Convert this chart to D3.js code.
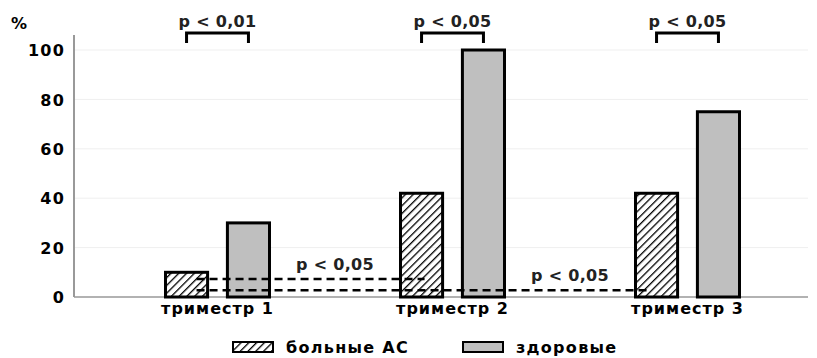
<!DOCTYPE html>
<html lang='ru'>
<head>
	<meta charset='UTF-8'/>
	<title>D3: триместры</title>
	<script src='https://cdnjs.cloudflare.com/ajax/libs/d3/7.8.5/d3.min.js'></script>
	<style>
		body {margin: 0; background: #fff;}
		svg {display: block; font-family: 'DejaVu Sans', Verdana, sans-serif;}
	</style>
</head>
<body>
	<div class='graph'></div>
	<script>
		// data
		const categories = ['триместр 1', 'триместр 2', 'триместр 3'];
		const seriesNames = ['больные АС', 'здоровые'];
		const sick = [10, 42, 42];
		const healthy = [30, 100, 75];
		const yTicks = [0, 20, 40, 60, 80, 100];
		const pairLabels = ['p < 0,01', 'p < 0,05', 'p < 0,05'];
		// dashed comparisons: from trimester 1 (sick) to trimester N (sick)
		const crossTargets = [1, 2];
		const crossLabels = ['p < 0,05', 'p < 0,05'];

		var width = 817, height = 358;
		var margin = ({top: 50, right: 9, bottom: 61, left: 74});

		var svg = d3.select('.graph').append('svg')
			.attr('width', width)
			.attr('height', height);

		// hatch pattern
		var defs = svg.append('defs');
		defs.append('pattern')
			.attr('id', 'hatch')
			.attr('patternUnits', 'userSpaceOnUse')
			.attr('width', 5.5).attr('height', 5.5)
			.attr('patternTransform', 'rotate(45)')
			.append('line')
			.attr('x1', 0).attr('y1', 0).attr('x2', 0).attr('y2', 5.5)
			.attr('stroke', '#000').attr('stroke-width', 2.6);

		const fills = ['url(#hatch)', '#bfbfbf'];
		const values = [sick, healthy];

		const Y = d3.scaleLinear().domain([0, 100]).range([height - margin.bottom, margin.top]);
		const X = d3.scaleBand().domain(categories).range([100, 805]);
		const XS = d3.scaleBand().domain(seriesNames).range([-52, 52]).paddingInner(0.32);
		const cx = (i, s) => X(categories[i]) + X.bandwidth() / 2 + XS(seriesNames[s]) + XS.bandwidth() / 2;

		// grid
		svg.append('g')
			.selectAll('line')
			.data(yTicks.slice(1))
			.join('line')
			.attr('x1', margin.left).attr('x2', width - margin.right)
			.attr('y1', d => Y(d)).attr('y2', d => Y(d))
			.attr('stroke', '#efefef').attr('stroke-width', 1);

		// y axis
		var yAxis = svg.append('g')
			.attr('transform', 'translate(' + margin.left + ',0)')
			.call(d3.axisLeft(Y).tickValues(yTicks).tickSize(0).tickPadding(9));
		yAxis.select('.domain').attr('stroke', '#999').attr('stroke-width', 2)
			.attr('d', 'M0,' + (margin.top - 15) + 'V' + Y(0));
		yAxis.selectAll('.tick text')
			.attr('dy', '0.36em')
			.style('font-family', "'DejaVu Sans', sans-serif")
			.style('font-size', '16px').style('font-weight', 'bold')
			.style('letter-spacing', '1.2px').style('fill', '#000');

		svg.append('text')
			.attr('x', 11).attr('y', 29)
			.style('font-weight', 'bold').style('font-size', '16px')
			.text('%');

		// x axis
		var xAxis = svg.append('g')
			.attr('transform', 'translate(0,' + Y(0) + ')')
			.call(d3.axisBottom(X).tickSize(0).tickPadding(6));
		xAxis.select('.domain').attr('stroke', '#999').attr('stroke-width', 1.5)
			.attr('d', 'M' + margin.left + ',0H' + (width - margin.right));
		xAxis.selectAll('.tick text')
			.style('font-family', "'DejaVu Sans', sans-serif")
			.style('font-size', '16px').style('font-weight', 'bold')
			.style('letter-spacing', '1px').style('fill', '#000');

		// bars
		seriesNames.forEach((name, s) => {
			svg.append('g')
				.selectAll('rect')
				.data(values[s])
				.join('rect')
				.attr('x', (d, i) => X(categories[i]) + X.bandwidth() / 2 + XS(name))
				.attr('width', XS.bandwidth())
				.attr('y', d => Y(d))
				.attr('height', d => Y(0) - Y(d))
				.attr('fill', fills[s])
				.attr('stroke', '#000')
				.attr('stroke-width', 3);
		});

		// brackets above each pair
		var br = svg.append('g').selectAll('g').data(pairLabels).join('g');
		br.append('path')
			.attr('d', (d, i) => 'M' + cx(i, 0) + ',43V33H' + cx(i, 1) + 'V43')
			.attr('fill', 'none').attr('stroke', '#000').attr('stroke-width', 3);
		br.append('text')
			.attr('x', (d, i) => (cx(i, 0) + cx(i, 1)) / 2)
			.attr('y', 27)
			.attr('text-anchor', 'middle')
			.style('font-size', '16px')
			.style('font-weight', 'bold')
			.style('fill', '#222')
			.style('letter-spacing', '0.3px')
			.text(d => d);

		// dashed comparisons between sick bars
		const levels = [7.3, 2.7];
		var cr = svg.append('g').selectAll('g').data(crossTargets).join('g');
		cr.append('line')
			.attr('x1', cx(0, 0) + 10)
			.attr('x2', (d, k) => cx(d, 0) + (k === 0 ? 3 : -7))
			.attr('y1', (d, k) => Y(levels[k]))
			.attr('y2', (d, k) => Y(levels[k]))
			.attr('stroke', '#000').attr('stroke-width', 2.5)
			.attr('stroke-dasharray', '8,5');
		cr.append('text')
			.attr('x', d => X(categories[d]))
			.attr('y', (d, k) => Y(levels[k]) - 9)
			.attr('text-anchor', 'middle')
			.style('font-size', '16px')
			.style('font-weight', 'bold')
			.style('fill', '#222')
			.style('letter-spacing', '0.3px')
			.text((d, k) => crossLabels[k]);

		// legend
		const legX = [233, 463];
		var lg = svg.append('g').selectAll('g').data(seriesNames).join('g')
			.attr('transform', (d, i) => 'translate(' + legX[i] + ',342)');
		lg.append('rect')
			.attr('width', 40).attr('height', 10)
			.attr('fill', (d, i) => fills[i])
			.attr('stroke', '#000').attr('stroke-width', 2);
		lg.append('text')
			.attr('x', 53).attr('y', 11)
			.style('font-size', '16px').style('font-weight', 'bold')
			.style('letter-spacing', '1.3px')
			.text(d => d);
	</script>
</body>
</html>
